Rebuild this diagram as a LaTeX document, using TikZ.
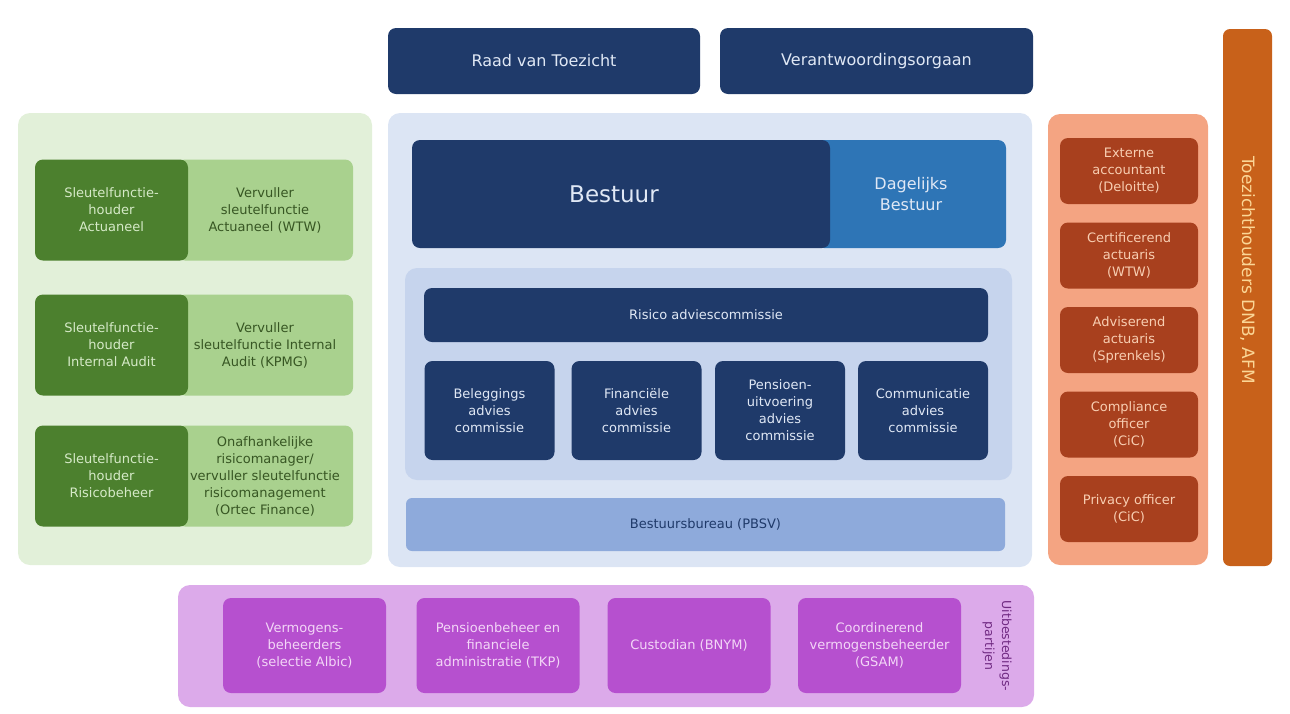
\documentclass[tikz,border=0pt]{standalone}
\usepackage{fontspec}
\setmainfont{DejaVu Sans}
\definecolor{navy}{RGB}{31,58,106}
\definecolor{navytext}{RGB}{224,232,245}
\definecolor{dagblue}{RGB}{46,117,182}
\definecolor{bluepanel}{RGB}{220,229,244}
\definecolor{blueinner}{RGB}{198,212,237}
\definecolor{bureau}{RGB}{142,170,219}
\definecolor{greenpanel}{RGB}{226,240,217}
\definecolor{darkgreen}{RGB}{76,128,46}
\definecolor{lightgreen}{RGB}{169,209,142}
\definecolor{greentext}{RGB}{214,234,200}
\definecolor{greendark}{RGB}{55,86,35}
\definecolor{salmon}{RGB}{244,164,130}
\definecolor{brick}{RGB}{168,64,30}
\definecolor{bricktext}{RGB}{248,206,178}
\definecolor{orangebar}{RGB}{200,97,26}
\definecolor{orangetext}{RGB}{251,214,150}
\definecolor{purplepanel}{RGB}{220,170,234}
\definecolor{purplebox}{RGB}{182,80,207}
\definecolor{purpletext}{RGB}{243,214,247}
\definecolor{purpledark}{RGB}{112,42,130}
\begin{document}
\begin{tikzpicture}[x=1pt,y=-1pt,
    box/.style={rounded corners=8pt, align=center, inner sep=0pt,
        font=\fontsize{13}{17}\selectfont},
    panel/.style={rounded corners=12pt, inner sep=0pt},
    navybox/.style={box, fill=navy, text=navytext},
    darkgreenbox/.style={box, fill=darkgreen, text=greentext},
    lightgreenbox/.style={box, fill=lightgreen, text=greendark},
    brickbox/.style={box, fill=brick, text=bricktext},
    purplebx/.style={box, fill=purplebox, text=purpletext}]
    \useasboundingbox (0,0) rectangle (1290,713);
    % toezicht bovenaan
    \node[navybox, minimum width=312pt, minimum height=66pt,
        font=\fontsize{16}{19}\selectfont] (raad) at (544,61) {Raad van Toezicht};
    \node[navybox, minimum width=313pt, minimum height=66pt,
        font=\fontsize{16}{19}\selectfont] (vo) at (876.5,61) {Verantwoordingsorgaan};
    % sleutelfuncties
    \node[panel, fill=greenpanel, minimum width=354pt, minimum height=452pt] (groen) at (195,339) {};
    \foreach \y/\name/\houder/\vervuller in {
        210/act/Actuaneel/{Vervuller\\sleutelfunctie\\Actuaneel (WTW)},
        345/ia/Internal Audit/{Vervuller\\sleutelfunctie Internal\\Audit (KPMG)},
        476/risk/Risicobeheer/{Onafhankelijke\\risicomanager/\\vervuller sleutelfunctie\\risicomanagement\\(Ortec Finance)}}{
        \node[lightgreenbox, minimum width=176pt, minimum height=101pt] (vervul-\name) at (265,\y) {\vervuller};
        \node[darkgreenbox, minimum width=153pt, minimum height=101pt] (houder-\name) at (111.5,\y) {Sleutelfunctie-\\houder\\\houder};
    }
    % bestuur
    \node[panel, fill=bluepanel, minimum width=644pt, minimum height=454pt] (blauw) at (710,340) {};
    \node[box, fill=dagblue, text=navytext, minimum width=190pt, minimum height=108pt,
        font=\fontsize{16}{21}\selectfont] (dagelijks) at (911,194) {Dagelijks\\Bestuur};
    \node[navybox, minimum width=418pt, minimum height=108pt,
        font=\fontsize{23}{28}\selectfont] (bestuur) at (621,194) {Bestuur\hspace*{14pt}};
    \node[panel, fill=blueinner, minimum width=607pt, minimum height=212pt] (commissies) at (708.5,374) {};
    \node[navybox, minimum width=564pt, minimum height=54pt] (risico) at (706,315) {Risico adviescommissie};
    \foreach \x/\name/\txt in {489.5/bel/{Beleggings\\advies\\commissie},
        636.5/fin/{Financiële\\advies\\commissie},
        780/pens/{Pensioen-\\uitvoering\\advies\\commissie},
        923/comm/{Communicatie\\advies\\commissie}}
        \node[navybox, minimum width=130pt, minimum height=99pt] (\name) at (\x,410.5) {\txt};
    \node[box, fill=bureau, text=navy, rounded corners=6pt, minimum width=599pt,
        minimum height=53pt] (bureau) at (705.5,524.5) {Bestuursbureau (PBSV)};
    % externe partijen rechts
    \node[panel, fill=salmon, minimum width=160pt, minimum height=451pt] (extern) at (1128,339.5) {};
    \foreach \y/\name/\txt in {171/acc/{Externe\\accountant\\(Deloitte)},
        255.5/cert/{Certificerend\\actuaris\\(WTW)},
        340/adv/{Adviserend\\actuaris\\(Sprenkels)},
        424.5/comp/{Compliance\\officer\\(CiC)},
        509/priv/{Privacy officer\\(CiC)}}
        \node[brickbox, minimum width=138pt, minimum height=66pt] (\name) at (1129,\y) {\txt};
    \node[panel, rounded corners=7pt, fill=orangebar, minimum width=49pt, minimum height=537pt] (dnb) at (1247.5,297.5) {};
    \node[text=orangetext, rotate=-90, font=\fontsize{17}{20}\selectfont] (dnbtxt) at (1247.5,270) {Toezichthouders DNB, AFM};
    % uitbesteding
    \node[panel, fill=purplepanel, minimum width=856pt, minimum height=122pt] (paars) at (606,646) {};
    \foreach \x/\name/\txt in {304.5/verm/{Vermogens-\\beheerders\\(selectie Albic)},
        498/tkp/{Pensioenbeheer en\\financiele\\administratie (TKP)},
        689/bnym/{Custodian (BNYM)},
        879.5/gsam/{Coordinerend\\vermogensbeheerder\\(GSAM)}}
        \node[purplebx, minimum width=163pt, minimum height=95pt] (\name) at (\x,645.5) {\txt};
    \node[text=purpledark, rotate=-90, align=center,
        font=\fontsize{12.5}{17}\selectfont] (uitb) at (997,646) {Uitbestedings-\\partijen};
\end{tikzpicture}
\end{document}
